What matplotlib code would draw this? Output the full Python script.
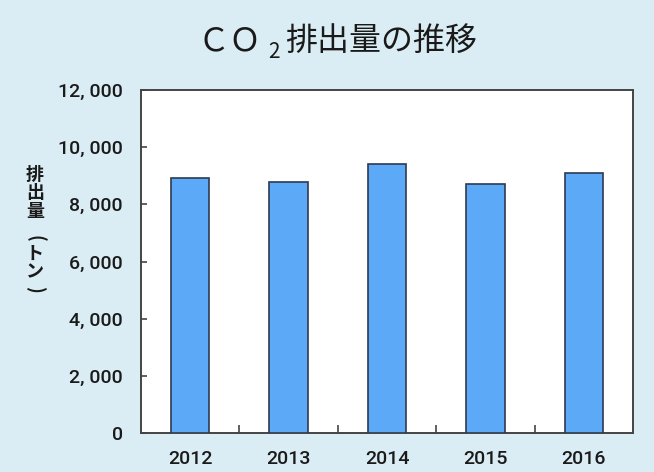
import matplotlib
matplotlib.use('Agg')
import matplotlib.pyplot as plt
import numpy as np

# ---- data ----
years = ['2012', '2013', '2014', '2015', '2016']
emissions = [8910, 8770, 9410, 8700, 9110]
yticks = [0, 2000, 4000, 6000, 8000, 10000, 12000]
ytick_labels = ['0', '2, 000', '4, 000', '6, 000', '8, 000', '10, 000', '12, 000']
title_head = 'ＣＯ'
title_sub = '2'
title_tail = '排出量の推移'
ylabel_chars = ['排', '出', '量', '(', 'ト', 'ン', ')']

W, H = 654, 472
BG = '#DAECF4'
BAR = '#5BA9F7'
EDGE = '#2F3A4F'
SPINE = '#444444'
TXT = '#1a1a1a'
CJK = ['Noto Sans CJK JP', 'DejaVu Sans']
NUM = ['Roboto', 'DejaVu Sans']

fig = plt.figure(figsize=(W / 100, H / 100), dpi=100, facecolor=BG)
ax = fig.add_axes([141 / W, (H - 433) / H, (633 - 141) / W, (433 - 90) / H])
ax.set_facecolor('white')

x = np.arange(len(years))
ax.bar(x, emissions, width=0.39, color=BAR, edgecolor=EDGE, linewidth=1.2, zorder=3)
ax.set_xlim(-0.5, len(years) - 0.5)
ax.set_ylim(yticks[0], yticks[-1])

ax.set_yticks(yticks)
ax.set_yticklabels(ytick_labels)
ax.set_xticks(x)
ax.set_xticklabels(years)
ax.set_xticks(np.arange(0.5, len(years) - 0.5, 1), minor=True)
ax.tick_params(axis='x', which='major', length=0, pad=12)
ax.tick_params(axis='x', which='minor', direction='in', length=6, width=1.2, color=SPINE)
ax.tick_params(axis='y', which='major', direction='in', length=4, width=1.2, color=SPINE, pad=13)
for lab in ax.get_xticklabels() + ax.get_yticklabels():
    lab.set_fontfamily(NUM)
    lab.set_fontsize(14)
    lab.set_fontweight('medium')
    lab.set_color(TXT)
for s in ax.spines.values():
    s.set_color(SPINE)
    s.set_linewidth(1.4)

# ---- title (pieces so the 2 can be a subscript) ----
fig.text(198 / W, (H - 50) / H, title_head, fontsize=23, family=CJK, color=TXT,
         ha='left', va='baseline')
fig.text(268 / W, (H - 58) / H, title_sub, fontsize=15, family=CJK, color=TXT,
         ha='left', va='baseline')
fig.text(285 / W, (H - 50) / H, title_tail, fontsize=23, family=CJK, color=TXT,
         ha='left', va='baseline')

# ---- vertical y label ----
ylabel_y = [175, 193, 211, 238, 254, 272, 289]
ylabel_rot = [0, 0, 0, -90, 0, 0, -90]
for ch, yy, rot in zip(ylabel_chars, ylabel_y, ylabel_rot):
    fig.text(35 / W, (H - yy) / H, ch, fontsize=13, family=CJK, fontweight='bold',
             color=TXT, ha='center', va='center', rotation=rot)

fig.savefig('out.png', dpi=100, facecolor=BG)
